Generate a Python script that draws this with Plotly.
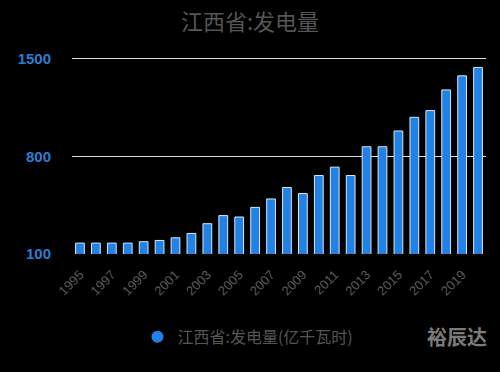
import plotly.graph_objects as go

YEARS = list(range(1995, 2021))
VALUES = [178, 178, 178, 178, 188, 197, 216, 247, 317, 375, 365, 434, 494,
          576, 533, 662, 722, 662, 868, 868, 981, 1079, 1127, 1275, 1376, 1436]
TICK_YEARS = list(range(1995, 2021, 2))
Y_TICKS = [100, 800, 1500]
TITLE = "江西省:发电量"
SERIES = "江西省:发电量(亿千瓦时)"
WATERMARK = "裕辰达"

FONT = "Noto Sans CJK SC, Liberation Sans, Arial, sans-serif"
BAR_COLOR = "#1f82e4"

fig = go.Figure()
fig.add_trace(go.Bar(
    x=YEARS, y=VALUES, name=SERIES, showlegend=False,
    marker=dict(color=BAR_COLOR, line=dict(color="#d8e8f8", width=1)),
))
# legend entry (circle marker)
fig.add_trace(go.Scatter(
    x=[None], y=[None], mode="markers", name=SERIES,
    marker=dict(symbol="circle", size=15, color=BAR_COLOR),
))

fig.update_layout(
    width=500, height=372,
    paper_bgcolor="black", plot_bgcolor="black",
    margin=dict(l=72, r=14, t=56, b=118),
    bargap=0.45,
    title=dict(text=TITLE, x=0.5, xanchor="center", y=0.94, yanchor="middle",
               font=dict(family=FONT, size=22, color="#555555")),
    font=dict(family=FONT),
    showlegend=True,
    legend=dict(orientation="h", x=0.425, xanchor="center", y=-0.418, yanchor="middle",
                font=dict(family=FONT, size=16, color="#555555"),
                bgcolor="rgba(0,0,0,0)", itemsizing="constant"),
    annotations=[dict(text="<b>" + WATERMARK + "</b>", xref="paper", yref="paper",
                      x=0.93, y=-0.418, xanchor="center", yanchor="middle",
                      showarrow=False, font=dict(family=FONT, size=20, color="#7a7a7a"))],
)
fig.update_yaxes(
    range=[100, 1518], tickvals=Y_TICKS, showgrid=True, gridcolor="#dddddd", gridwidth=1,
    zeroline=False, showline=False,
    tickfont=dict(family="Liberation Sans, Arial, sans-serif", size=15, color="#2a7dd0", weight="bold"),
    ticks="", ticklabelstandoff=20,
)
fig.update_xaxes(
    range=[1994.5, 2020.5], tickvals=TICK_YEARS, tickangle=-45,
    showgrid=False, zeroline=False, showline=True, linecolor="black", linewidth=2,
    tickfont=dict(family="Liberation Sans, Arial, sans-serif", size=13, color="#5a5a5a"),
    ticks="outside", ticklen=6, tickcolor="black",
)

fig.write_html("out.html", config={"displayModeBar": False},
               post_script="document.body.style.margin='0';document.body.style.background='black';")
